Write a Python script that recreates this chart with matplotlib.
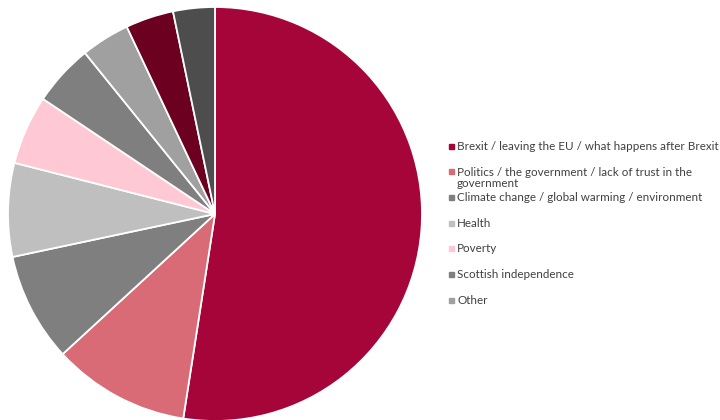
import matplotlib.pyplot as plt
from matplotlib.patches import Rectangle

# share of mentions per issue, clockwise from the top
labels = [
    "Brexit / leaving the EU / what happens after Brexit",
    "Politics / the government / lack of trust in the\ngovernment",
    "Climate change / global warming / environment",
    "Health",
    "Poverty",
    "Scottish independence",
    "Other",
    "",
    "",
]
shares = [52.4, 10.7, 8.5, 7.3, 5.4, 4.8, 3.8, 3.75, 3.25]
colors = ["#A6053A", "#D96B77", "#7F7F7F", "#BFBFBF", "#FFC8D5",
          "#7F7F7F", "#A0A0A0", "#6B0021", "#4D4D4D"]

plt.rcParams["font.family"] = ["Lato", "DejaVu Sans"]

fig = plt.figure(figsize=(7.2, 4.2), dpi=100)
ax = fig.add_axes([8 / 720, -1 / 420, 414 / 720, 414 / 420])
ax.pie(shares, colors=colors, startangle=90, counterclock=False,
       wedgeprops=dict(edgecolor="white", linewidth=1.3))
ax.set_xlim(-1, 1)
ax.set_ylim(-1, 1)
ax.set_aspect("equal")
ax.axis("off")

# legend only lists the named issues
y0, step = 146, 25.7
for i, lab in enumerate(labels):
    if not lab:
        continue
    y = y0 + i * step
    fig.patches.append(Rectangle((449 / 720, 1 - (y + 2.5) / 420), 5 / 720, 5 / 420,
                                 transform=fig.transFigure, color=colors[i]))
    ty = y + 6.5 if "\n" in lab else y
    fig.text(457 / 720, 1 - ty / 420, lab, fontsize=8.35, color="#404040",
             va="center", ha="left", linespacing=1.05)

fig.savefig("out.png", dpi=100)
